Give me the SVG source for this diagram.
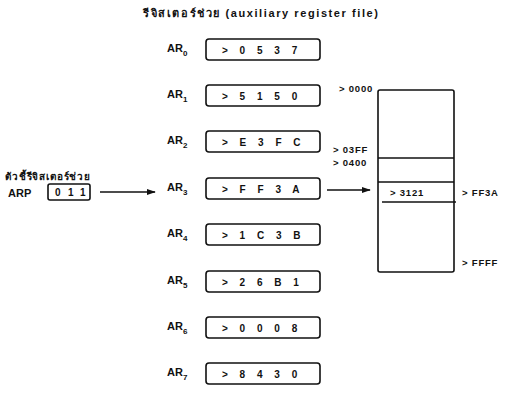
<svg xmlns="http://www.w3.org/2000/svg" width="510" height="398" viewBox="0 0 510 398">
  <style>
    .t { font-family: "Liberation Sans", "Noto Sans", "DejaVu Sans", sans-serif; font-weight: bold; fill: #111; }
    .lbl { font-size: 11px; }
    .sub { font-size: 8px; }
    .val { font-size: 10px; }
    .addr { font-size: 9.5px; letter-spacing: 0.8px; }
    .box { fill: #fff; stroke: #111; stroke-width: 1.6; }
    .ln { stroke: #111; stroke-width: 1.5; fill: none; }
  </style>
  <defs>
    <marker id="arr" viewBox="0 0 10 10" refX="9" refY="5" markerWidth="6" markerHeight="6" orient="auto">
      <path d="M0,1.5 L10,5 L0,8.5 z" fill="#111"/>
    </marker>
  </defs>
  <rect width="510" height="398" fill="#fff"/>

  <!-- title -->
  <text class="t" x="143" y="17" font-size="11" textLength="235" lengthAdjust="spacing">รีจิสเตอร์ช่วย (auxiliary register file)</text>

  <!-- auxiliary register pointer -->
  <g id="arp">
    <text class="t" x="5" y="180" font-size="10" textLength="85" lengthAdjust="spacing">ตัวชี้รีจิสเตอร์ช่วย</text>
    <text class="t lbl" x="8" y="197">ARP</text>
    <rect class="box" x="48" y="184" width="42" height="16" rx="2"/>
    <text class="t val" x="55" y="196">0</text>
    <text class="t val" x="68" y="196">1</text>
    <text class="t val" x="80" y="196">1</text>
  </g>

  <!-- auxiliary registers AR0..AR7 -->
  <g id="ar0">
    <text class="t lbl" x="167" y="52">AR<tspan class="sub" dy="4">0</tspan></text>
    <rect class="box" x="206" y="39" width="114" height="21" rx="3"/>
    <text class="t val" x="222" y="54" word-spacing="9">&gt; 0 5 3 7</text>
  </g>
  <g id="ar1">
    <text class="t lbl" x="167" y="98">AR<tspan class="sub" dy="4">1</tspan></text>
    <rect class="box" x="206" y="85" width="114" height="21" rx="3"/>
    <text class="t val" x="222" y="100" word-spacing="9">&gt; 5 1 5 0</text>
  </g>
  <g id="ar2">
    <text class="t lbl" x="167" y="144">AR<tspan class="sub" dy="4">2</tspan></text>
    <rect class="box" x="206" y="131" width="114" height="21" rx="3"/>
    <text class="t val" x="222" y="146" word-spacing="9">&gt; E 3 F C</text>
  </g>
  <g id="ar3">
    <text class="t lbl" x="167" y="191">AR<tspan class="sub" dy="4">3</tspan></text>
    <rect class="box" x="206" y="178" width="114" height="21" rx="3"/>
    <text class="t val" x="222" y="193" word-spacing="9">&gt; F F 3 A</text>
  </g>
  <g id="ar4">
    <text class="t lbl" x="167" y="237">AR<tspan class="sub" dy="4">4</tspan></text>
    <rect class="box" x="206" y="224" width="114" height="21" rx="3"/>
    <text class="t val" x="222" y="239" word-spacing="9">&gt; 1 C 3 B</text>
  </g>
  <g id="ar5">
    <text class="t lbl" x="167" y="284">AR<tspan class="sub" dy="4">5</tspan></text>
    <rect class="box" x="206" y="271" width="114" height="21" rx="3"/>
    <text class="t val" x="222" y="286" word-spacing="9">&gt; 2 6 B 1</text>
  </g>
  <g id="ar6">
    <text class="t lbl" x="167" y="330">AR<tspan class="sub" dy="4">6</tspan></text>
    <rect class="box" x="206" y="317" width="114" height="21" rx="3"/>
    <text class="t val" x="222" y="332" word-spacing="9">&gt; 0 0 0 8</text>
  </g>
  <g id="ar7">
    <text class="t lbl" x="167" y="376">AR<tspan class="sub" dy="4">7</tspan></text>
    <rect class="box" x="206" y="363" width="114" height="21" rx="3"/>
    <text class="t val" x="222" y="378" word-spacing="9">&gt; 8 4 3 0</text>
  </g>

  <!-- data memory -->
  <g id="memory">
    <rect class="box" x="378" y="90" width="76" height="182" rx="2"/>
    <line class="ln" x1="378" y1="158" x2="454" y2="158"/>
    <line class="ln" x1="378" y1="182" x2="454" y2="182"/>
    <line class="ln" x1="382" y1="202" x2="456" y2="202"/>
    <text class="t addr" x="390" y="196">&gt; 3121</text>
    <text class="t addr" x="339" y="92">&gt; 0000</text>
    <text class="t addr" x="333" y="153">&gt; 03FF</text>
    <text class="t addr" x="333" y="166">&gt; 0400</text>
    <text class="t addr" x="462" y="196">&gt; FF3A</text>
    <text class="t addr" x="462" y="266">&gt; FFFF</text>
  </g>

  <!-- connectors -->
  <g id="connectors">
    <line class="ln" x1="100" y1="192" x2="155" y2="192" marker-end="url(#arr)"/>
    <line class="ln" x1="327" y1="190" x2="370" y2="190" marker-end="url(#arr)"/>
  </g>
</svg>
